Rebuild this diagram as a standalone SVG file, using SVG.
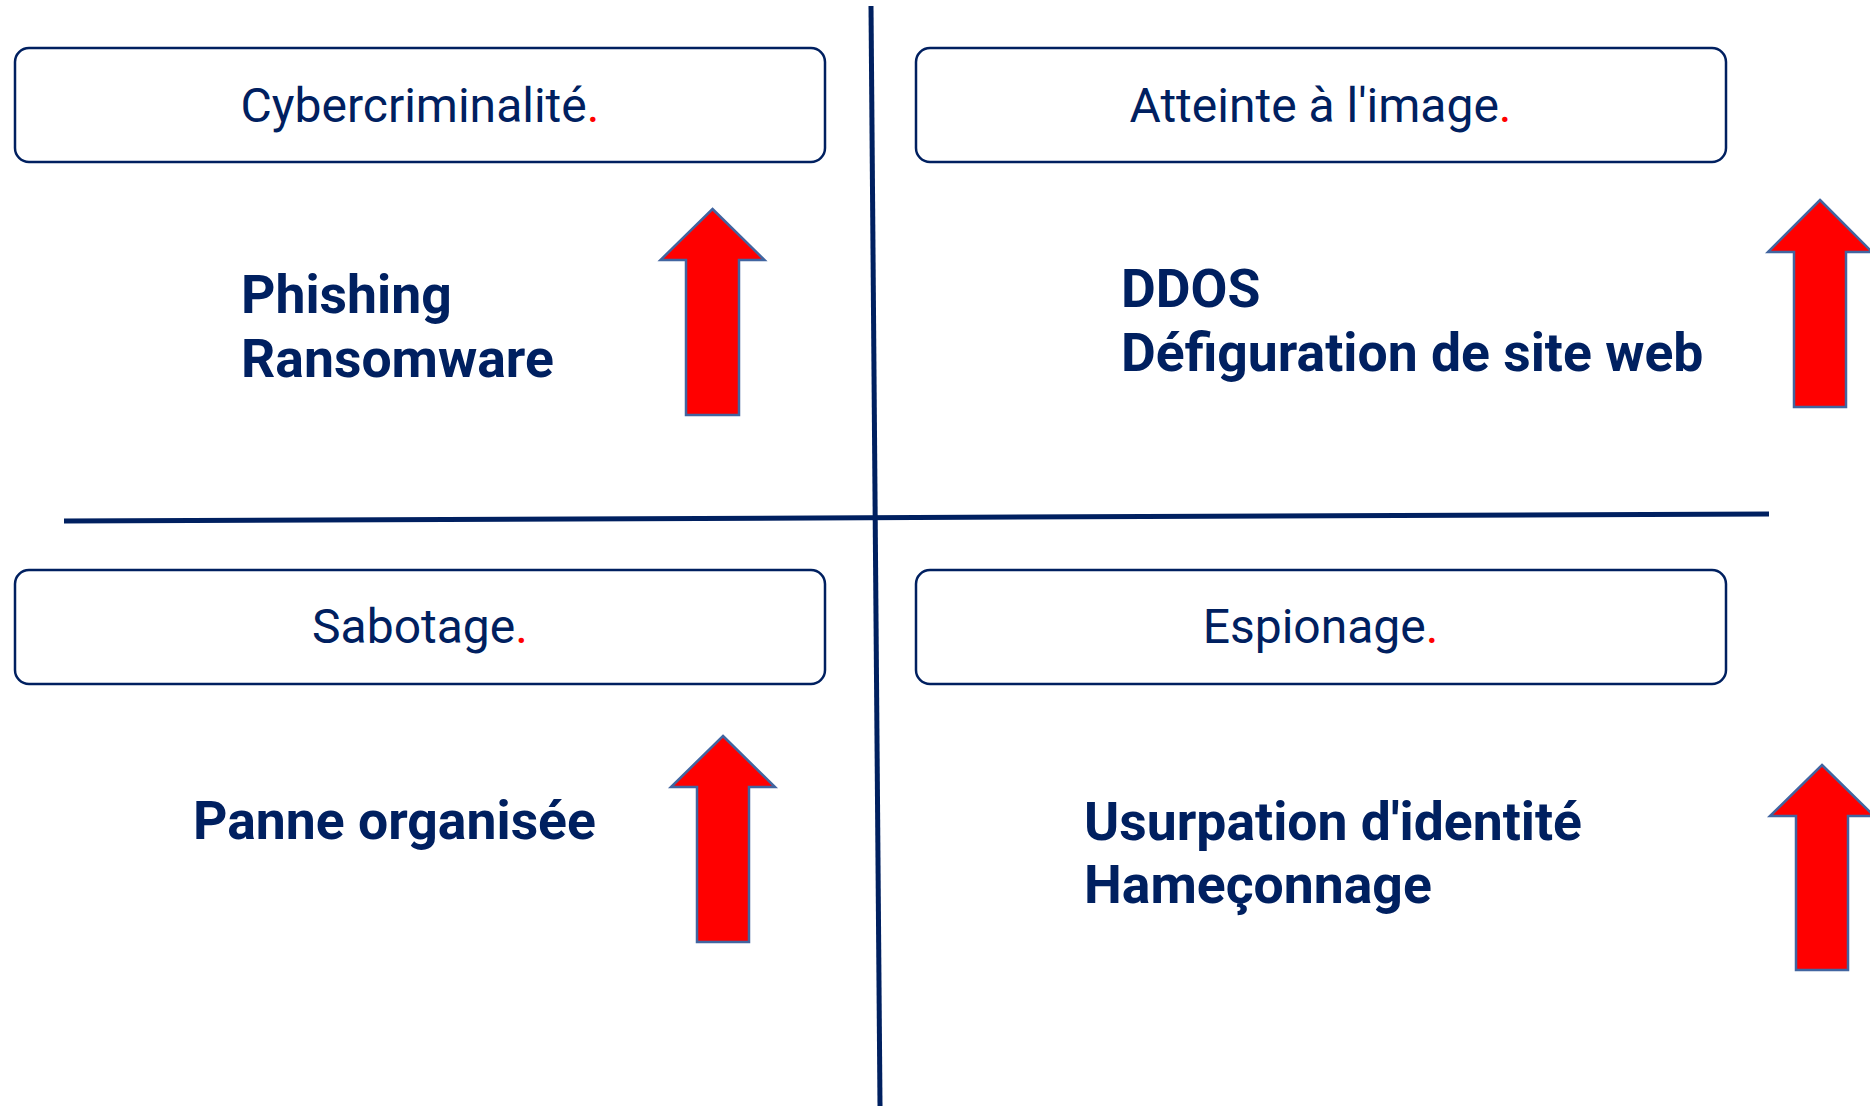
<svg xmlns="http://www.w3.org/2000/svg" width="1870" height="1106" viewBox="0 0 1870 1106">
<style>
.box{fill:#ffffff;stroke:#002060;stroke-width:2.5}
.lbl{font-family:Roboto,"Liberation Sans",sans-serif;font-size:48px;fill:#002060;text-anchor:middle}
.dot{fill:#ff0000}
.body{font-family:Roboto,"Liberation Sans",sans-serif;font-size:53.5px;font-weight:700;fill:#002060}
.arrow{fill:#ff0000;stroke:#4165a0;stroke-width:2.5;stroke-linejoin:miter}
.axis{stroke:#002060;stroke-width:5;fill:none}
</style>
<rect width="1870" height="1106" fill="#ffffff"/>
<g id="connectors">
<line class="axis" x1="871" y1="6" x2="880" y2="1106"/>
<line class="axis" x1="64" y1="521" x2="1769" y2="514"/>
</g>
<g id="cybercriminalite">
<rect class="box" x="15" y="48" width="810" height="114" rx="14"/>
<text class="lbl" x="420" y="122">Cybercriminalité<tspan class="dot">.</tspan></text>
</g>
<g id="atteinte-image">
<rect class="box" x="916" y="48" width="810" height="114" rx="14"/>
<text class="lbl" x="1320.5" y="122">Atteinte à l'image<tspan class="dot">.</tspan></text>
</g>
<g id="sabotage">
<rect class="box" x="15" y="570" width="810" height="114" rx="14"/>
<text class="lbl" x="420" y="643">Sabotage<tspan class="dot">.</tspan></text>
</g>
<g id="espionage">
<rect class="box" x="916" y="570" width="810" height="114" rx="14"/>
<text class="lbl" x="1320.5" y="643">Espionage<tspan class="dot">.</tspan></text>
</g>
<g id="text-cyber">
<text class="body" x="241" y="313">Phishing</text>
<text class="body" x="241" y="377">Ransomware</text>
</g>
<g id="text-image">
<text class="body" x="1121" y="307">DDOS</text>
<text class="body" x="1121" y="371">Défiguration de site web</text>
</g>
<g id="text-sabotage">
<text class="body" x="193" y="839">Panne organisée</text>
</g>
<g id="text-espionage">
<text class="body" x="1084" y="840">Usurpation d'identité</text>
<text class="body" x="1084" y="903">Hameçonnage</text>
</g>
<g id="arrow-1">
<polygon class="arrow" points="712.5,209 764.5,260 739,260 739,415 686,415 686,260 660.5,260"/>
</g>
<g id="arrow-2">
<polygon class="arrow" points="1820,200 1872,252 1846,252 1846,407 1794,407 1794,252 1768,252"/>
</g>
<g id="arrow-3">
<polygon class="arrow" points="723,736 775,787 749,787 749,942 697,942 697,787 671,787"/>
</g>
<g id="arrow-4">
<polygon class="arrow" points="1822,765 1874,816 1848,816 1848,970 1796,970 1796,816 1770,816"/>
</g>
</svg>
